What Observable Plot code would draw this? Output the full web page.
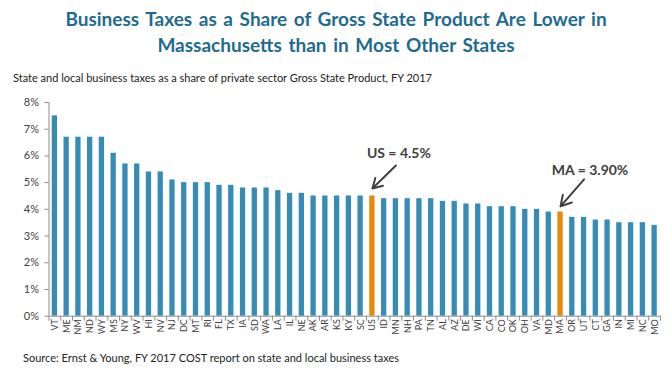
<!DOCTYPE html>
<html>
<head>
<meta charset="utf-8">
<script src="https://cdn.jsdelivr.net/npm/d3@7"></script>
<script src="https://cdn.jsdelivr.net/npm/@observablehq/plot@0.6"></script>
<style>
  html, body { margin: 0; padding: 0; background: #fff; }
  #wrap { position: relative; width: 672px; height: 378px; overflow: hidden; font-family: Lato, "Open Sans", sans-serif; }
  #title { position: absolute; top: 6px; left: 0; width: 672px; text-align: center; font-weight: bold; font-size: 19px; line-height: 26px; color: #1E6B8F; word-spacing: 2px; }
  #subtitle { position: absolute; top: 71px; left: 13px; font-size: 11px; color: #222; white-space: nowrap; }
  #chart { position: absolute; top: 88px; left: 0; }
  #source { position: absolute; top: 351px; left: 23px; font-size: 11px; color: #222; white-space: nowrap; }
</style>
</head>
<body>
<div id="wrap">
  <div id="title">Business Taxes as a Share of Gross State Product Are Lower in<br>Massachusetts than in Most Other States</div>
  <div id="subtitle">State and local business taxes as a share of private sector Gross State Product, FY 2017</div>
  <div id="chart"></div>
  <div id="source">Source: Ernst &amp; Young, FY 2017 COST report on state and local business taxes</div>
</div>
<script>
const states = ["VT","ME","NM","ND","WY","MS","NY","WV","HI","NV","NJ","DC","MT","RI","FL","TX","IA","SD","WA","LA","IL","NE","AK","AR","KS","KY","SC","US","ID","MN","NH","PA","TN","AL","AZ","DE","WI","CA","CO","OK","OH","VA","MD","MA","OR","UT","CT","GA","IN","MI","NC","MO"];
const values = [7.5,6.7,6.7,6.7,6.7,6.1,5.7,5.7,5.4,5.4,5.1,5.0,5.0,5.0,4.9,4.9,4.8,4.8,4.8,4.7,4.6,4.6,4.5,4.5,4.5,4.5,4.5,4.5,4.4,4.4,4.4,4.4,4.4,4.3,4.3,4.2,4.2,4.1,4.1,4.1,4.0,4.0,3.9,3.9,3.7,3.7,3.6,3.6,3.5,3.5,3.5,3.4];
const highlighted = ["US","MA"];
const yTicks = [0,1,2,3,4,5,6,7,8];

const annLabels = ["US = 4.5%", "MA = 3.90%"];
const annTargets = ["US", "MA"];
const annTargetValues = [4.78, 4.11];
const annSources = ["MN", "UT"];
const annSourceValues = [5.64, 5.12];
const annLabelValues = [6.1, 5.46];

const data = states.map((s, i) => ({state: s, value: values[i], hl: highlighted.includes(s)}));
const ann = annLabels.map((l, i) => ({label: l, to: annTargets[i], toV: annTargetValues[i], from: annSources[i], fromV: annSourceValues[i], labelV: annLabelValues[i]}));

const W = 672, H = 250, ML = 48.5, MR = 12, MT = 14, MB = 22.3;
const step = (W - ML - MR) / states.length;
const blue = "#368CB5", orange = "#E8890C", axisGray = "#8c8c8c", textGray = "#404040";

const chart = Plot.plot({
  width: W, height: H,
  marginLeft: ML, marginRight: MR, marginTop: MT, marginBottom: MB,
  style: {fontFamily: "Lato, 'Open Sans', sans-serif", color: textGray, background: "#fff"},
  x: {type: "band", domain: states, paddingInner: 0.55, paddingOuter: 0.275, label: null},
  y: {domain: [0, 8], label: null},
  marks: [
    Plot.barY(data, {x: "state", y: "value", fill: d => d.hl ? orange : blue}),
    Plot.ruleY([0], {stroke: axisGray}),
    Plot.ruleX([states[0]], {dx: -step / 2, stroke: axisGray}),
    Plot.axisY({ticks: yTicks, tickFormat: d => d + "%", tickSize: 4, tickPadding: 6, stroke: axisGray, fontSize: 11, fill: textGray, label: null}),
    Plot.axisX({tickSize: 5, tickFormat: () => "", dx: -step / 2, stroke: axisGray, label: null}),
    Plot.axisX({ticks: [states[states.length - 1]], tickSize: 5, tickFormat: () => "", dx: step / 2, stroke: axisGray, label: null}),
    Plot.axisX({tickSize: 0, tickRotate: -90, tickPadding: 3, fontSize: 9, fill: textGray, label: null}),
    Plot.arrow(ann, {x1: "from", y1: "fromV", x2: "to", y2: "toV", stroke: textGray, strokeWidth: 2, headLength: 9}),
    Plot.text(ann.slice(0, 1), {x: "from", y: "labelV", text: "label", dx: 3, fontWeight: "bold", fontSize: 14, fill: textGray}),
    Plot.text(ann.slice(1), {x: "from", y: "labelV", text: "label", dx: 6, fontWeight: "bold", fontSize: 14, fill: textGray})
  ]
});
document.getElementById("chart").appendChild(chart);
</script>
</body>
</html>
